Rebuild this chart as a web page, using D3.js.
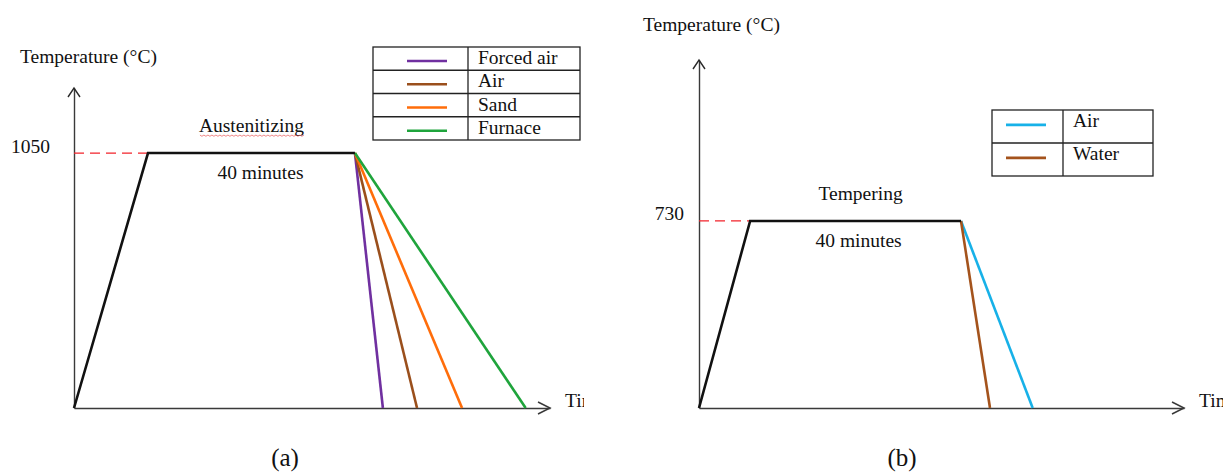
<!DOCTYPE html>
<html>
<head>
<meta charset="utf-8">
<script src="https://cdn.jsdelivr.net/npm/d3@7"></script>
<style>
  html, body { margin: 0; padding: 0; background: #fff; }
  svg { display: block; }
  text { font-family: "Liberation Serif", "Times New Roman", serif; fill: #111; }
</style>
</head>
<body>
<svg id="chart" width="1223" height="474"></svg>
<script>
// Heat-treatment schedules (time in minutes, temperature in °C)
const austenitizeTemp = 1050;
const austenitizeRamp = [0, 14.3];          // heating start / soak start
const austenitizeHoldEnd = 54.3;             // 40 minute soak
const quenchMedia = ["Forced air", "Air", "Sand", "Furnace"];
const quenchEndTimes = [59.7, 66.3, 75.0, 87.3];
const quenchColors = ["#7030a0", "#9a4f1c", "#ff6d0a", "#1fa43c"];

const temperTemp = 730;
const temperRamp = [0, 9.7];
const temperHoldEnd = 49.7;
const temperMedia = ["Air", "Water"];
const temperEndTimes = [63.3, 55.2];
const temperColors = ["#17b1e8", "#a4531c"];

const holdLabel = "40 minutes";
const yLabel = "Temperature (°C)";
const xLabel = "Time";

const FS = 19.5;   // body text size
const svg = d3.select("#chart");

function panel(cfg) {
  const g = svg.append("g");
  const clipId = "clip-" + cfg.id;
  svg.append("defs").append("clipPath").attr("id", clipId)
    .append("rect").attr("x", cfg.clip[0]).attr("y", 0)
    .attr("width", cfg.clip[1] - cfg.clip[0]).attr("height", 474);
  g.attr("clip-path", `url(#${clipId})`);

  const x = d3.scaleLinear().domain([0, 92]).range(cfg.xRange);
  const y = d3.scaleLinear().domain([0, cfg.yMax]).range(cfg.yRange);

  // y axis with the soak temperature as its only tick
  const yAxis = g.append("g")
    .attr("transform", `translate(${cfg.xRange[0]},0)`)
    .call(d3.axisLeft(y).tickValues([cfg.temp]).tickFormat(d3.format("d"))
      .tickSize(0).tickSizeOuter(0).tickPadding(cfg.tickPad));
  yAxis.select(".domain").attr("stroke", "#3a3a3a").attr("stroke-width", 1.4);
  yAxis.selectAll(".tick text")
    .attr("font-family", "Liberation Serif, serif").attr("font-size", FS)
    .attr("fill", "#111").attr("dy", "-0.05em");

  const xAxis = g.append("g")
    .attr("transform", `translate(0,${cfg.yRange[0]})`)
    .call(d3.axisBottom(x).tickValues([]).tickSizeOuter(0));
  xAxis.select(".domain").attr("stroke", "#3a3a3a").attr("stroke-width", 1.6);

  // open arrow heads
  const x0 = cfg.xRange[0], yTop = cfg.yRange[1], yB = cfg.yRange[0], xEnd = cfg.xRange[1];
  g.append("path").attr("d", `M${x0 - 6},${yTop + 9}L${x0},${yTop}L${x0 + 6},${yTop + 9}`)
    .attr("fill", "none").attr("stroke", "#2a2a2a").attr("stroke-width", 1.4);
  g.append("path").attr("d", `M${xEnd - 12},${yB - 6}L${xEnd},${yB}L${xEnd - 12},${yB + 6}`)
    .attr("fill", "none").attr("stroke", "#3a3a3a").attr("stroke-width", 1.5);

  // axis titles
  g.append("text").attr("x", cfg.yTitle[0]).attr("y", cfg.yTitle[1])
    .attr("font-size", FS).text(yLabel);
  g.append("text").attr("x", xEnd + 15).attr("y", yB - 1)
    .attr("font-size", FS).text(xLabel);

  // dashed guide to the soak temperature
  g.append("line")
    .attr("x1", x(0)).attr("x2", x(cfg.ramp[1]))
    .attr("y1", y(cfg.temp)).attr("y2", y(cfg.temp))
    .attr("stroke", "#f2232b").attr("stroke-width", 1.3).attr("stroke-dasharray", "10,6");

  const line = d3.line().x(d => x(d[0])).y(d => y(d[1]));

  // cooling curves
  cfg.ends.forEach((t, i) => {
    g.append("path")
      .datum([[cfg.holdEnd, cfg.temp], [t, 0]])
      .attr("d", line).attr("fill", "none")
      .attr("stroke", cfg.colors[i]).attr("stroke-width", 2.6);
  });

  // heating and soak
  g.append("path")
    .datum([[cfg.ramp[0], 0], [cfg.ramp[1], cfg.temp], [cfg.holdEnd, cfg.temp]])
    .attr("d", line).attr("fill", "none")
    .attr("stroke", "#111").attr("stroke-width", 2.6).attr("stroke-linejoin", "miter");

  const mid = (x(cfg.ramp[1]) + x(cfg.holdEnd)) / 2;
  const stage = g.append("text").attr("x", mid + cfg.stageDx).attr("y", y(cfg.temp) - 21)
    .attr("text-anchor", "middle").attr("font-size", FS).text(cfg.stage);
  g.append("text").attr("x", mid + cfg.holdDx).attr("y", y(cfg.temp) + 26)
    .attr("text-anchor", "middle").attr("font-size", FS).text(holdLabel);

  if (cfg.squiggle) {
    const bb = stage.node().getBBox();
    const pts = d3.range(bb.x + 1, bb.x + bb.width, 2).map((px, k) => [px, bb.y + bb.height - 1 + (k % 2 ? 1.2 : 0)]);
    g.append("path").attr("d", d3.line()(pts)).attr("fill", "none")
      .attr("stroke", "#e64040").attr("stroke-width", 0.8).attr("opacity", 0.8);
  }

  // legend table
  const L = cfg.legend;
  const lg = g.append("g");
  const rows = cfg.media.length;
  const rowH = (L.y1 - L.y0) / rows;
  lg.append("rect").attr("x", L.x0).attr("y", L.y0)
    .attr("width", L.x1 - L.x0).attr("height", L.y1 - L.y0)
    .attr("fill", "#fff").attr("stroke", "#222").attr("stroke-width", 1.3);
  lg.append("line").attr("x1", L.xd).attr("x2", L.xd).attr("y1", L.y0).attr("y2", L.y1)
    .attr("stroke", "#222").attr("stroke-width", 1.3);
  cfg.media.forEach((m, i) => {
    const ry = L.y0 + i * rowH;
    if (i > 0) lg.append("line").attr("x1", L.x0).attr("x2", L.x1).attr("y1", ry).attr("y2", ry)
      .attr("stroke", "#222").attr("stroke-width", 1.3);
    lg.append("line").attr("x1", L.s0).attr("x2", L.s1)
      .attr("y1", ry + rowH * L.sw).attr("y2", ry + rowH * L.sw)
      .attr("stroke", cfg.colors[i]).attr("stroke-width", 2.6);
    lg.append("text").attr("x", L.xd + 10).attr("y", ry + L.tb)
      .attr("font-size", FS).text(m);
  });

  svg.append("text").attr("x", cfg.tag[0]).attr("y", cfg.tag[1])
    .attr("text-anchor", "middle").attr("font-size", 25).text(cfg.tagText);
}

panel({
  id: "a", clip: [0, 584],
  xRange: [74, 550], yRange: [408, 88], yMax: 1318,
  temp: austenitizeTemp, ramp: austenitizeRamp, holdEnd: austenitizeHoldEnd,
  ends: quenchEndTimes, colors: quenchColors, media: quenchMedia,
  tickPad: 24, yTitle: [20, 63],
  stage: "Austenitizing", stageDx: 0, holdDx: 9, squiggle: true,
  legend: { x0: 373, x1: 580, y0: 47, y1: 140, xd: 468, s0: 407, s1: 447, sw: 0.6, tb: 17 },
  tag: [285, 466], tagText: "(a)"
});

panel({
  id: "b", clip: [590, 1223],
  xRange: [699, 1184], yRange: [408, 60], yMax: 1358,
  temp: temperTemp, ramp: temperRamp, holdEnd: temperHoldEnd,
  ends: temperEndTimes, colors: temperColors, media: temperMedia,
  tickPad: 15, yTitle: [643, 31],
  stage: "Tempering", stageDx: 5, holdDx: 3, squiggle: false,
  legend: { x0: 992, x1: 1153, y0: 110, y1: 176, xd: 1063, s0: 1006, s1: 1046, sw: 0.45, tb: 17 },
  tag: [902, 466], tagText: "(b)"
});
</script>
</body>
</html>
